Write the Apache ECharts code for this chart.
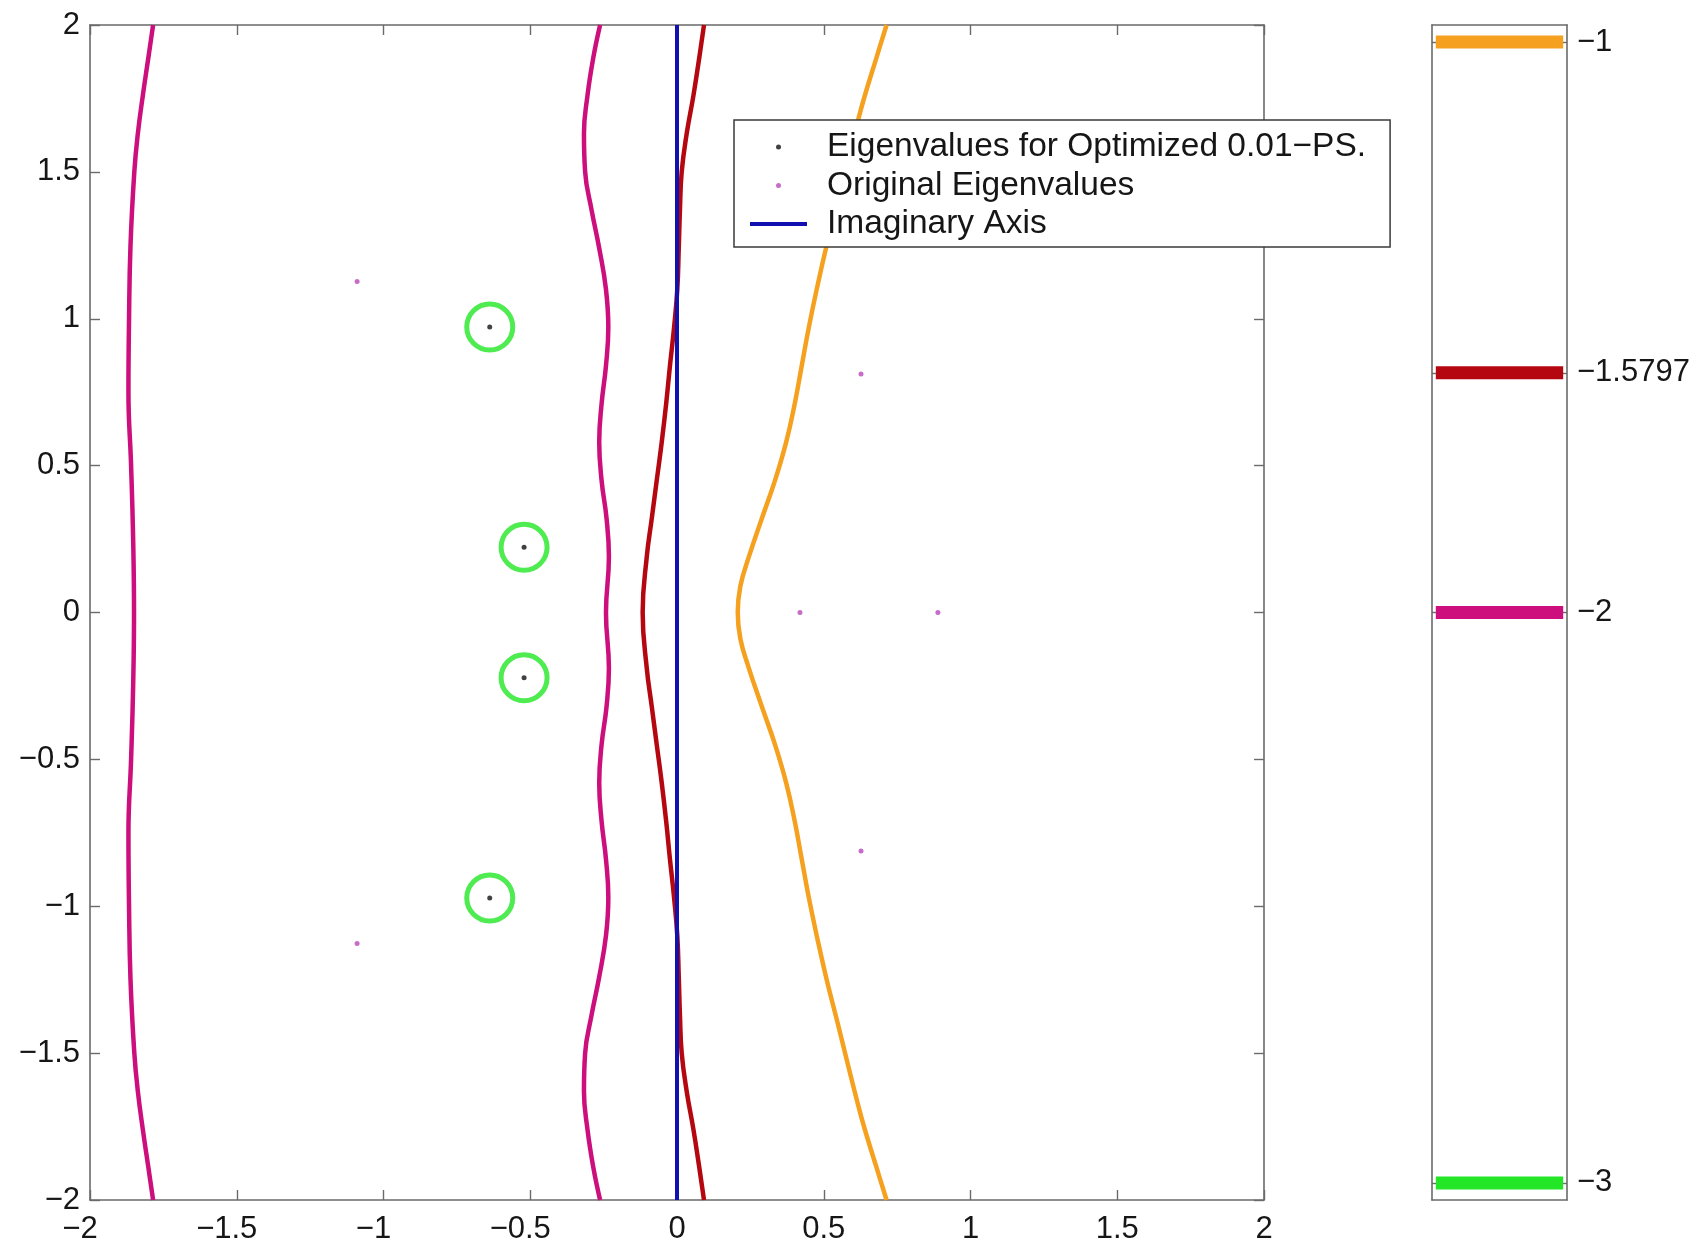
<!DOCTYPE html>
<html>
<head>
<meta charset="utf-8">
<title>Pseudospectra contours</title>
<script src="https://cdn.jsdelivr.net/npm/echarts@6/dist/echarts.min.js"></script>
<style>
  html, body { margin: 0; padding: 0; background: #fff; }
  #chart { width: 1699px; height: 1250px; }
</style>
</head>
<body>
<div id="chart"></div>
<script>
// Axis ticks of the complex plane
const planeTicks = [-2, -1.5, -1, -0.5, 0, 0.5, 1, 1.5, 2];

// Contour levels (log10 of epsilon) shown in the colour bar
const levels = [-1, -1.5797, -2, -3];
const levelColors = ['#f5a11f', '#b5070f', '#cc0f7c', '#22e626'];

// Level -2 contour, left branch  [re, im]
const contourM2Left = [
  [-1.785, 2.0], [-1.801, 1.89], [-1.820, 1.76], [-1.837, 1.63], [-1.849, 1.50],
  [-1.862, 1.25], [-1.867, 1.00], [-1.869, 0.75], [-1.860, 0.50], [-1.853, 0.25],
  [-1.850, 0.00],
  [-1.853, -0.25], [-1.860, -0.50], [-1.869, -0.75], [-1.867, -1.00], [-1.862, -1.25],
  [-1.849, -1.50], [-1.837, -1.63], [-1.820, -1.76], [-1.801, -1.89], [-1.785, -2.0]
];

// Level -2 contour, inner branch
const contourM2Inner = [
  [-0.262, 2.0], [-0.285, 1.89], [-0.305, 1.76], [-0.317, 1.63], [-0.313, 1.50],
  [-0.291, 1.37], [-0.265, 1.24], [-0.242, 1.10], [-0.234, 0.97], [-0.242, 0.84],
  [-0.257, 0.71], [-0.265, 0.58], [-0.257, 0.45], [-0.240, 0.32], [-0.232, 0.19],
  [-0.242, 0.00],
  [-0.232, -0.19], [-0.240, -0.32], [-0.257, -0.45], [-0.265, -0.58], [-0.257, -0.71],
  [-0.242, -0.84], [-0.234, -0.97], [-0.242, -1.10], [-0.265, -1.24], [-0.291, -1.37],
  [-0.313, -1.50], [-0.317, -1.63], [-0.305, -1.76], [-0.285, -1.89], [-0.262, -2.0]
];

// Level -1.5797 contour (optimized epsilon)
const contourOpt = [
  [0.092, 2.0], [0.076, 1.89], [0.056, 1.76], [0.033, 1.63], [0.016, 1.50],
  [0.010, 1.37], [0.006, 1.24], [0.001, 1.10], [-0.010, 0.97], [-0.024, 0.84],
  [-0.037, 0.71], [-0.052, 0.58], [-0.069, 0.45], [-0.086, 0.32], [-0.103, 0.19],
  [-0.117, 0.00],
  [-0.103, -0.19], [-0.086, -0.32], [-0.069, -0.45], [-0.052, -0.58], [-0.037, -0.71],
  [-0.024, -0.84], [-0.010, -0.97], [0.001, -1.10], [0.006, -1.24], [0.010, -1.37],
  [0.016, -1.50], [0.033, -1.63], [0.056, -1.76], [0.076, -1.89], [0.092, -2.0]
];

// Level -1 contour
const contourM1 = [
  [0.714, 2.0], [0.680, 1.89], [0.640, 1.76], [0.618, 1.68], [0.585, 1.55],
  [0.548, 1.40], [0.510, 1.25], [0.476, 1.10], [0.449, 0.97], [0.425, 0.84],
  [0.401, 0.71], [0.372, 0.58], [0.334, 0.45], [0.289, 0.32], [0.245, 0.19],
  [0.216, 0.09], [0.207, 0.00],
  [0.216, -0.09], [0.245, -0.19], [0.289, -0.32], [0.334, -0.45], [0.372, -0.58],
  [0.401, -0.71], [0.425, -0.84], [0.449, -0.97], [0.476, -1.10], [0.510, -1.25],
  [0.548, -1.40], [0.585, -1.55], [0.618, -1.68], [0.640, -1.76], [0.680, -1.89],
  [0.714, -2.0]
];

// Eigenvalues
const optimizedEig = [[-0.638, 0.972], [-0.638, -0.972], [-0.521, 0.222], [-0.521, -0.222]];
const originalEig = [[-1.09, 1.127], [-1.09, -1.127], [0.627, 0.812], [0.627, -0.812], [0.419, 0], [0.889, 0]];
const imagAxis = [[0, -2], [0, 2]];

const FONT = '"Liberation Sans", Arial, Helvetica, sans-serif';
const TXT = '#161616';
const AX = '#6a6a6a';

const minus = v => (v < 0 ? '\u2212' + Math.abs(v) : String(v));

const chart = echarts.init(document.getElementById('chart'), null, { renderer: 'canvas' });

const contourSeries = (name, data, color) => ({
  name, type: 'line', data, xAxisIndex: 0, yAxisIndex: 0,
  showSymbol: false, symbol: 'none', smooth: 0.45,
  lineStyle: { color, width: 4.5 }, z: 2, silent: true
});

const option = {
  animation: false,
  backgroundColor: '#ffffff',
  textStyle: { fontFamily: FONT },
  grid: [
    { left: 90, top: 25, width: 1174, height: 1175, show: false },
    { left: 1432, top: 25, width: 135, height: 1175, show: false }
  ],
  xAxis: [
    {
      type: 'value', gridIndex: 0, position: 'bottom', min: -2, max: 2, interval: 0.5,
      axisLine: { show: true, onZero: false, lineStyle: { color: AX, width: 1.6 } },
      axisTick: { show: true, inside: true, length: 10, lineStyle: { color: AX, width: 1.4 } },
      splitLine: { show: false },
      axisLabel: {
        margin: 14, color: TXT, fontSize: 31, fontFamily: FONT,
        formatter: v => (v < 0 ? '{n|' + minus(v) + '}' : '{p|' + v + '}'),
        rich: {
          n: { fontSize: 31, fontFamily: FONT, color: TXT, padding: [0, 20, 0, 0] },
          p: { fontSize: 31, fontFamily: FONT, color: TXT }
        }
      }
    },
    {
      type: 'value', gridIndex: 0, position: 'top', min: -2, max: 2, interval: 0.5,
      axisLine: { show: true, onZero: false, lineStyle: { color: AX, width: 1.6 } },
      axisTick: { show: true, inside: true, length: 10, lineStyle: { color: AX, width: 1.4 } },
      axisLabel: { show: false }, splitLine: { show: false }
    },
    {
      type: 'value', gridIndex: 1, position: 'bottom', min: -0.03, max: 1.03,
      axisLine: { show: true, onZero: false, lineStyle: { color: AX, width: 1.6 } },
      axisTick: { show: false }, axisLabel: { show: false }, splitLine: { show: false }
    },
    {
      type: 'value', gridIndex: 1, position: 'top', min: -0.03, max: 1.03,
      axisLine: { show: true, onZero: false, lineStyle: { color: AX, width: 1.6 } },
      axisTick: { show: false }, axisLabel: { show: false }, splitLine: { show: false }
    }
  ],
  yAxis: [
    {
      type: 'value', gridIndex: 0, position: 'left', min: -2, max: 2, interval: 0.5,
      axisLine: { show: true, onZero: false, lineStyle: { color: AX, width: 1.6 } },
      axisTick: { show: true, inside: true, length: 10, lineStyle: { color: AX, width: 1.4 } },
      splitLine: { show: false },
      axisLabel: { margin: 10, color: TXT, fontSize: 31, fontFamily: FONT, formatter: minus }
    },
    {
      type: 'value', gridIndex: 0, position: 'right', min: -2, max: 2, interval: 0.5,
      axisLine: { show: true, onZero: false, lineStyle: { color: AX, width: 1.6 } },
      axisTick: { show: true, inside: true, length: 10, lineStyle: { color: AX, width: 1.4 } },
      axisLabel: { show: false }, splitLine: { show: false }
    },
    {
      type: 'value', gridIndex: 1, position: 'right', min: -3.03, max: -0.97,
      axisLine: { show: true, onZero: false, lineStyle: { color: AX, width: 1.6 } },
      axisTick: { show: true, inside: true, length: 5, customValues: levels, lineStyle: { color: AX, width: 1.4 } },
      splitLine: { show: false },
      axisLabel: {
        margin: 10, color: TXT, fontSize: 31, fontFamily: FONT,
        customValues: levels, formatter: minus, showMinLabel: true, showMaxLabel: true
      }
    },
    {
      type: 'value', gridIndex: 1, position: 'left', min: -3.03, max: -0.97,
      axisLine: { show: true, onZero: false, lineStyle: { color: AX, width: 1.6 } },
      axisTick: { show: true, inside: true, length: 5, customValues: levels, lineStyle: { color: AX, width: 1.4 } },
      axisLabel: { show: false }, splitLine: { show: false }
    }
  ],
  legend: {
    orient: 'vertical', left: 734, top: 120,
    padding: [10, 24, 6, 16], itemGap: 4.5,
    itemWidth: 57, itemHeight: 5,
    backgroundColor: '#ffffff', borderColor: '#3a3a3a', borderWidth: 1.5, borderRadius: 0,
    selectedMode: false,
    textStyle: { fontFamily: FONT, fontSize: 33.5, color: TXT, lineHeight: 30, padding: [0, 0, 0, 15] },
    data: [
      { name: 'Eigenvalues for Optimized 0.01\u2212PS.', icon: 'circle' },
      { name: 'Original Eigenvalues', icon: 'circle' },
      { name: 'Imaginary Axis', icon: 'path://M0,0L57,0L57,4L0,4Z' }
    ],
    z: 10
  },
  series: [
    contourSeries('level -2 (outer)', contourM2Left, levelColors[2]),
    contourSeries('level -2 (inner)', contourM2Inner, levelColors[2]),
    contourSeries('level -1.5797', contourOpt, levelColors[1]),
    contourSeries('level -1', contourM1, levelColors[0]),
    {
      // level -3 contours: small rings round the optimized eigenvalues
      name: 'level -3', type: 'scatter', xAxisIndex: 0, yAxisIndex: 0,
      data: optimizedEig, symbol: 'circle', symbolSize: 46,
      itemStyle: { color: 'rgba(0,0,0,0)', borderColor: levelColors[3], borderWidth: 5 },
      z: 3, silent: true
    },
    {
      name: 'Imaginary Axis', type: 'line', xAxisIndex: 0, yAxisIndex: 0,
      data: imagAxis, showSymbol: false, symbol: 'none',
      lineStyle: { color: '#1111b0', width: 4 }, itemStyle: { color: '#1111b0' },
      z: 4, silent: true
    },
    {
      name: 'Original Eigenvalues', type: 'scatter', xAxisIndex: 0, yAxisIndex: 0,
      data: originalEig, symbol: 'circle', symbolSize: 5,
      itemStyle: { color: '#b848bc' }, z: 5, silent: true
    },
    {
      name: 'Eigenvalues for Optimized 0.01\u2212PS.', type: 'scatter', xAxisIndex: 0, yAxisIndex: 0,
      data: optimizedEig, symbol: 'circle', symbolSize: 5,
      itemStyle: { color: '#111111' }, z: 6, silent: true
    },
    // colour bar: one band per contour level
    ...levels.map((lv, i) => ({
      name: 'bar ' + lv, type: 'line', xAxisIndex: 2, yAxisIndex: 2,
      data: [[0, lv], [1, lv]], showSymbol: false, symbol: 'none',
      lineStyle: { color: levelColors[i], width: 13, cap: 'butt' }, z: 2, silent: true
    }))
  ]
};

chart.setOption(option);
</script>
</body>
</html>
